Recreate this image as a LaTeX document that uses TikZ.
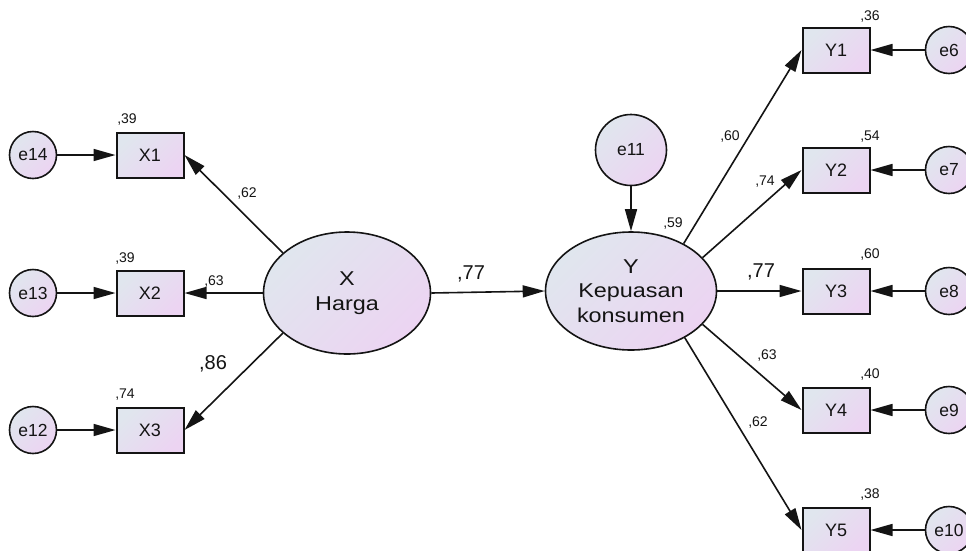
\documentclass[tikz,border=0pt]{standalone}
\usepackage{fontspec}
\setmainfont{Liberation Sans}
\newfontfamily\widefont{Liberation Sans}[FakeStretch=1.17]
\usetikzlibrary{arrows.meta,shapes.geometric}
\definecolor{cA}{RGB}{224,230,238}
\definecolor{cB}{RGB}{236,212,242}
\definecolor{ink}{RGB}{20,20,20}
\tikzset{
  fillgrad/.style={top color=cA, bottom color=cB, shading angle=45},
  obsbox/.style={draw=ink, line width=2pt, fillgrad, minimum width=67pt, minimum height=45pt, inner sep=0pt, font=\fontsize{18}{20}\selectfont, text=ink},
  errc/.style={circle, draw=ink, line width=1.6pt, fillgrad, minimum size=47pt, inner sep=0pt, font=\fontsize{17.5}{20}\selectfont, text=ink},
  latent/.style={ellipse, draw=ink, line width=1.6pt, fillgrad, inner sep=0pt, align=center, font=\widefont\fontsize{20}{24.5}\selectfont, text=ink},
  conn/.style={draw=ink, line width=1.6pt, -{Triangle[length=22pt,width=12pt]}},
  small/.style={font=\fontsize{14}{15}\selectfont, text=ink, inner sep=0pt},
  big/.style={font=\fontsize{20}{21}\selectfont, text=ink, inner sep=0pt}
}
\begin{document}
\begin{tikzpicture}[x=1pt,y=-1pt]
\useasboundingbox (0,0) rectangle (966,550);
\clip (0,0) rectangle (966,550);
\fill[white] (0,0) rectangle (966,550);
% left side
\node[errc] (e14) at (33,155) {e14};
\node[errc] (e13) at (33,293) {e13};
\node[errc] (e12) at (33,430) {e12};
\node[obsbox] (X1) at (150,155) {X1};
\node[obsbox] (X2) at (150,293) {X2};
\node[obsbox] (X3) at (150,430) {X3};
\node[latent, minimum width=167pt, minimum height=122pt] (X) at (347,293) {X\\Harga};
% middle / right
\node[latent, minimum width=171pt, minimum height=118pt] (Y) at (631,291) {Y\\Kepuasan\\konsumen};
\node[circle, draw=ink, line width=1.6pt, fillgrad, minimum size=71pt, inner sep=0pt, font=\fontsize{17.5}{20}\selectfont, text=ink] (e11) at (631,150) {e11};
\node[obsbox] (Y1) at (836,50) {Y1};
\node[obsbox] (Y2) at (836,170) {Y2};
\node[obsbox] (Y3) at (836,291) {Y3};
\node[obsbox] (Y4) at (836,410) {Y4};
\node[obsbox] (Y5) at (836,530) {Y5};
\node[errc] (e6) at (949,50) {e6};
\node[errc] (e7) at (949,170) {e7};
\node[errc] (e8) at (949,291) {e8};
\node[errc] (e9) at (949,410) {e9};
\node[errc] (e10) at (949,530) {e10};
% connectors
\draw[conn] (e14) -- (X1);
\draw[conn] (e13) -- (X2);
\draw[conn] (e12) -- (X3);
\draw[conn] (X.148) -- (X1.east);
\draw[conn] (X.west) -- (X2.east);
\draw[conn] (X.212) -- (X3.east);
\draw[conn] (X.east) -- (Y.west);
\draw[conn] (e11) -- (Y);
\draw[conn] (Y.42) -- (Y1.west);
\draw[conn] (Y.25) -- (Y2.west);
\draw[conn] (Y.east) -- (Y3.west);
\draw[conn] (Y.-25) -- (Y4.west);
\draw[conn] (Y.-41) -- (Y5.west);
\draw[conn] (e6) -- (Y1);
\draw[conn] (e7) -- (Y2);
\draw[conn] (e8) -- (Y3);
\draw[conn] (e9) -- (Y4);
\draw[conn] (e10) -- (Y5);
% labels
\node[small] (l39a) at (127,120) {,39};
\node[small] (l39b) at (125,258) {,39};
\node[small] (l74a) at (125,395) {,74};
\node[small] (l62a) at (247,193) {,62};
\node[small] (l63a) at (214,281) {,63};
\node[big] (l86) at (213,364) {,86};
\node[big] (l77a) at (471,274) {,77};
\node[small] (l59) at (673,223) {,59};
\node[small] (l60a) at (730,137) {,60};
\node[small] (l74b) at (765,182) {,74};
\node[big] (l77b) at (761,272) {,77};
\node[small] (l63b) at (767,355) {,63};
\node[small] (l62b) at (758,422) {,62};
\node[small] (l36) at (870,17) {,36};
\node[small] (l54) at (870,137) {,54};
\node[small] (l60b) at (870,254) {,60};
\node[small] (l40) at (870,374) {,40};
\node[small] (l38) at (870,494) {,38};
\end{tikzpicture}
\end{document}
